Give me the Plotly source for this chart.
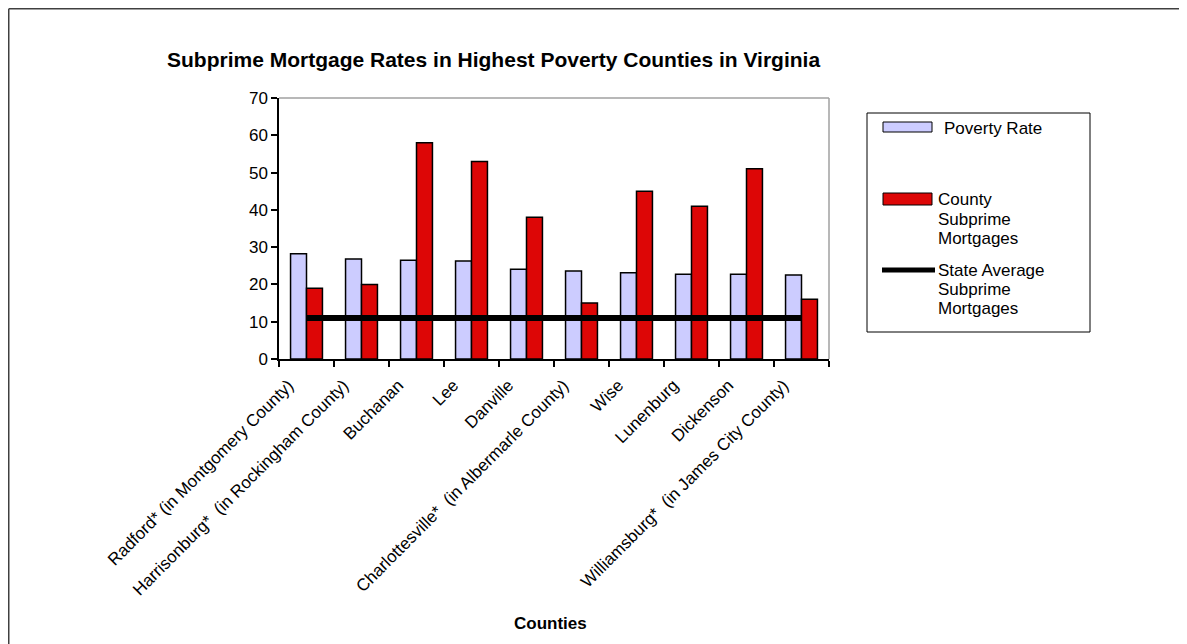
import plotly.graph_objects as go

counties = [
    "Radford* (in Montgomery County)",
    "Harrisonburg*  (in Rockingham County)",
    "Buchanan",
    "Lee",
    "Danville",
    "Charlottesville*  (in Albermarle County)",
    "Wise",
    "Lunenburg",
    "Dickenson",
    "Williamsburg*  (in James City County)",
]
poverty_rate = [28.2, 26.8, 26.5, 26.3, 24.1, 23.6, 23.1, 22.7, 22.7, 22.5]
county_subprime = [19, 20, 58, 53, 38, 15, 45, 41, 51, 16]
state_average = [11] * len(counties)

legend_lines = [["Poverty Rate"], ["County", "Subprime", "Mortgages"], ["State Average", "Subprime", "Mortgages"]]
title_text = "Subprime Mortgage Rates in Highest Poverty Counties in Virginia"
x_title = "Counties"
y_ticks = [0, 10, 20, 30, 40, 50, 60, 70]

OFF = 8  # page body margin
W, H = 1187 - OFF, 644 - OFF
# plot area in screen pixels
SL, SR, ST, SB = 279, 829, 98, 359
L, R, T, B = SL - OFF, SR - OFF, ST - OFF, SB - OFF


def px(x):
    return (x - OFF - L) / (R - L)


def py(y):
    return (B - (y - OFF)) / (B - T)


FONT = "Liberation Sans, Arial, sans-serif"
BLUE = "#CCCCFF"
RED = "#DD0606"
TXT = 17

fig = go.Figure()
fig.add_trace(go.Bar(
    x=counties, y=poverty_rate, name="Poverty Rate",
    marker=dict(color=BLUE, line=dict(color="black", width=1.5)),
    showlegend=False,
))
fig.add_trace(go.Bar(
    x=counties, y=county_subprime, name="County Subprime Mortgages",
    marker=dict(color=RED, line=dict(color="black", width=1.5)),
    showlegend=False,
))
fig.add_trace(go.Scatter(
    x=counties, y=state_average, mode="lines", name="State Average Subprime Mortgages",
    line=dict(color="black", width=6),
    showlegend=False,
))

shapes = []
# plot area top/right border (gray)
shapes.append(dict(type="line", xref="paper", yref="paper", x0=0, x1=1, y0=1, y1=1,
                   line=dict(color="#A0A0A0", width=1.5)))
shapes.append(dict(type="line", xref="paper", yref="paper", x0=1, x1=1, y0=0, y1=1,
                   line=dict(color="#A0A0A0", width=1.5)))
# outer chart border (top & left visible)
shapes.append(dict(type="line", xref="paper", yref="paper", x0=px(8.75), x1=px(1200), y0=py(8.75), y1=py(8.75),
                   line=dict(color="#404040", width=1.5)))
shapes.append(dict(type="line", xref="paper", yref="paper", x0=px(8.75), x1=px(8.75), y0=py(8.75), y1=py(660),
                   line=dict(color="#404040", width=1.5)))
# legend box
shapes.append(dict(type="rect", xref="paper", yref="paper", x0=px(867), x1=px(1090), y0=py(113), y1=py(332),
                   line=dict(color="black", width=1), fillcolor="white"))
# legend swatches
shapes.append(dict(type="rect", xref="paper", yref="paper", x0=px(883), x1=px(932), y0=py(122), y1=py(132),
                   line=dict(color="black", width=1), fillcolor=BLUE))
shapes.append(dict(type="rect", xref="paper", yref="paper", x0=px(883), x1=px(932), y0=py(193), y1=py(205),
                   line=dict(color="black", width=1), fillcolor=RED))
shapes.append(dict(type="line", xref="paper", yref="paper", x0=px(882), x1=px(935), y0=py(270), y1=py(270),
                   line=dict(color="black", width=5)))

annotations = [
    dict(text="<b>" + title_text + "</b>", xref="paper", yref="paper", x=px(165), y=py(59),
         xanchor="left", yanchor="middle", showarrow=False, font=dict(size=21, color="black", family=FONT)),
    dict(text="<b>" + x_title + "</b>", xref="paper", yref="paper", x=px(550), y=py(623),
         xanchor="center", yanchor="middle", showarrow=False, font=dict(size=TXT, color="black", family=FONT)),
]
legend_x = [942, 936, 936]
legend_y = [[128], [199, 219, 238], [270, 289, 308]]
for lines, lx, ys in zip(legend_lines, legend_x, legend_y):
    for line, ly in zip(lines, ys):
        annotations.append(dict(text=line, xref="paper", yref="paper", x=px(lx), y=py(ly),
                                xanchor="left", yanchor="middle", showarrow=False,
                                font=dict(size=TXT, color="black", family=FONT)))

fig.update_layout(
    width=W, height=H,
    margin=dict(l=L, r=W - R, t=T, b=H - B, autoexpand=False),
    paper_bgcolor="white", plot_bgcolor="white",
    barmode="group", bargap=0.42, bargroupgap=0,
    font=dict(family=FONT, size=TXT, color="black"),
    shapes=shapes, annotations=annotations,
    showlegend=False,
)
fig.update_xaxes(
    showline=True, linecolor="black", linewidth=1.5,
    ticks="outside", tickson="boundaries", ticklen=6, tickcolor="black", tickwidth=1.5,
    tickangle=-45, showgrid=False, tickfont=dict(size=TXT, family=FONT, color="black"),
    ticklabelshift=-18, ticklabelstandoff=8,
)
fig.update_yaxes(
    range=[0, 70], tickvals=y_ticks, showline=True, linecolor="black", linewidth=1.5,
    ticks="outside", ticklen=6, tickcolor="black", tickwidth=1.5, showgrid=False, zeroline=False,
    ticklabelstandoff=0, tickfont=dict(size=TXT, family=FONT, color="black"),
)

fig.write_html("out.html")
